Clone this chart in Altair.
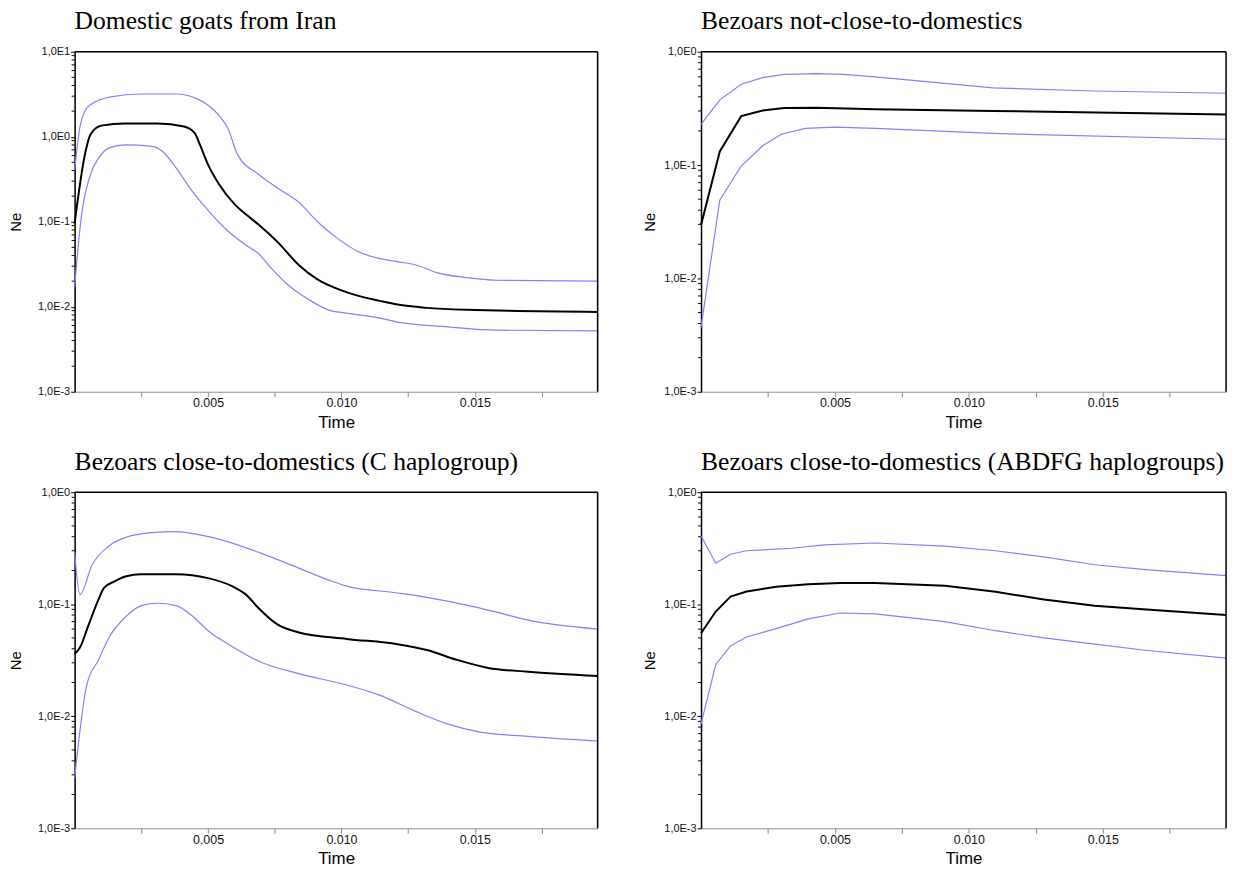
import altair as alt
import pandas as pd

# ---------------- data ----------------
titles = [
    "Domestic goats from Iran",
    "Bezoars not-close-to-domestics",
    "Bezoars close-to-domestics (C haplogroup)",
    "Bezoars close-to-domestics (ABDFG haplogroups)",
]
ymax_exp = [1, 0, 0, 0]

# Panel 1 : Domestic goats from Iran
p1_med_t = [0, 0.0004, 0.0006, 0.001, 0.0019, 0.0031, 0.0041, 0.0045, 0.0047, 0.005, 0.0054, 0.006, 0.0066, 0.0069,
            0.0076, 0.0084, 0.0091, 0.0099, 0.0106, 0.0114, 0.0121, 0.0132, 0.0147, 0.0196]
p1_med_v = [0.095, 0.65, 1.07, 1.35, 1.43, 1.43, 1.32, 1.1, 0.80, 0.47, 0.28, 0.16, 0.11, 0.092,
            0.058, 0.031, 0.021, 0.016, 0.0135, 0.0118, 0.0106, 0.0097, 0.0092, 0.0087]
p1_up_t = [0, 0.0002, 0.0004, 0.00065, 0.0013, 0.0025, 0.0038, 0.0046, 0.0054, 0.00575, 0.0061, 0.0069,
           0.0076, 0.0084, 0.0091, 0.0099, 0.0106, 0.0114, 0.0121, 0.0128, 0.0136, 0.0147, 0.0158, 0.0196]
p1_up_v = [0.40, 1.31, 2.04, 2.44, 2.92, 3.18, 3.18, 2.79, 1.79, 1.25, 0.62, 0.36,
           0.25, 0.17, 0.10, 0.062, 0.045, 0.037, 0.034, 0.031, 0.025, 0.022, 0.0205, 0.020]
p1_lo_t = [0, 0.0002, 0.00065, 0.0009, 0.0013, 0.0019, 0.0029, 0.0033, 0.0038, 0.0044, 0.005, 0.0057, 0.0065,
           0.0069, 0.0073, 0.0080, 0.0088, 0.0095, 0.0102, 0.0114, 0.0121, 0.014, 0.0158, 0.0196]
p1_lo_v = [0.017, 0.083, 0.40, 0.56, 0.74, 0.80, 0.77, 0.67, 0.43, 0.23, 0.136, 0.080, 0.051,
           0.042, 0.030, 0.018, 0.012, 0.0092, 0.0084, 0.0074, 0.0066, 0.0058, 0.0053, 0.0052]

# Panel 2 : Bezoars not-close-to-domestics
p2_med_t = [0, 0.0007, 0.0015, 0.0023, 0.0031, 0.0043, 0.0065, 0.0109, 0.0196]
p2_med_v = [0.0296, 0.132, 0.27, 0.303, 0.318, 0.32, 0.31, 0.30, 0.279]
p2_up_t = [0, 0.0007, 0.0015, 0.0023, 0.0031, 0.0043, 0.0053, 0.0065, 0.0109, 0.0147, 0.0196]
p2_up_v = [0.228, 0.376, 0.517, 0.59, 0.63, 0.64, 0.63, 0.60, 0.48, 0.45, 0.43]
p2_lo_t = [0, 0.0007, 0.0015, 0.0023, 0.003, 0.0039, 0.005, 0.0065, 0.0109, 0.0196]
p2_lo_v = [0.0037, 0.049, 0.098, 0.148, 0.187, 0.211, 0.216, 0.211, 0.19, 0.169]

# Panel 3 : Bezoars close-to-domestics (C haplogroup)
p3_med_t = [0, 0.0002, 0.0005, 0.0009, 0.0011, 0.0015, 0.0019, 0.0025, 0.0038, 0.005, 0.0059, 0.0064, 0.0069,
            0.0076, 0.0084, 0.0102, 0.0121, 0.0132, 0.0143, 0.0155, 0.017, 0.0196]
p3_med_v = [0.0359, 0.041, 0.063, 0.111, 0.14, 0.16, 0.177, 0.185, 0.185, 0.171, 0.145, 0.123, 0.092,
            0.066, 0.056, 0.049, 0.044, 0.039, 0.032, 0.027, 0.025, 0.0229]
p3_up_t = [0, 0.0002, 0.00065, 0.0013, 0.0019, 0.0029, 0.0038, 0.0046, 0.0056, 0.0069, 0.0084, 0.0095, 0.0102,
           0.0121, 0.0132, 0.0147, 0.0158, 0.017, 0.0196]
p3_up_v = [0.29, 0.122, 0.223, 0.333, 0.394, 0.436, 0.445, 0.42, 0.369, 0.29, 0.21, 0.165, 0.145,
           0.126, 0.115, 0.098, 0.085, 0.072, 0.06]
p3_lo_t = [0, 0.00045, 0.0009, 0.0013, 0.0019, 0.0025, 0.0031, 0.0038, 0.0044, 0.005, 0.0059, 0.0069, 0.0084,
           0.0102, 0.0114, 0.0128, 0.014, 0.0151, 0.017, 0.0196]
p3_lo_v = [0.0028, 0.0188, 0.032, 0.051, 0.0766, 0.097, 0.102, 0.097, 0.079, 0.058, 0.042, 0.031, 0.024,
           0.019, 0.0155, 0.011, 0.0085, 0.0073, 0.0066, 0.006]

# Panel 4 : Bezoars close-to-domestics (ABDFG haplogroups)
p4_med_t = [0, 0.00055, 0.0011, 0.0017, 0.0028, 0.004, 0.0052, 0.0065, 0.0091, 0.011, 0.0128, 0.0147, 0.0165, 0.0196]
p4_med_v = [0.055, 0.086, 0.117, 0.13, 0.143, 0.151, 0.155, 0.155, 0.146, 0.129, 0.11, 0.097, 0.09, 0.08]
p4_up_t = [0, 0.00055, 0.0011, 0.0017, 0.0034, 0.0046, 0.0065, 0.0091, 0.011, 0.0128, 0.0147, 0.0165, 0.0196]
p4_up_v = [0.408, 0.232, 0.279, 0.30, 0.316, 0.338, 0.352, 0.33, 0.30, 0.265, 0.225, 0.205, 0.18]
p4_lo_t = [0, 0.00055, 0.0011, 0.0017, 0.0028, 0.004, 0.0052, 0.0065, 0.0091, 0.011, 0.0128, 0.0147, 0.0165, 0.0196]
p4_lo_v = [0.0085, 0.029, 0.0425, 0.051, 0.0605, 0.074, 0.0835, 0.082, 0.07, 0.058, 0.05, 0.044, 0.039, 0.033]

x_ticks = [0.0025, 0.005, 0.0075, 0.010, 0.0125, 0.015, 0.0175]
x_max = 0.0196

panels = [
    (p1_med_t, p1_med_v, p1_lo_t, p1_lo_v, p1_up_t, p1_up_v),
    (p2_med_t, p2_med_v, p2_lo_t, p2_lo_v, p2_up_t, p2_up_v),
    (p3_med_t, p3_med_v, p3_lo_t, p3_lo_v, p3_up_t, p3_up_v),
    (p4_med_t, p4_med_v, p4_lo_t, p4_lo_v, p4_up_t, p4_up_v),
]
interp = ["monotone", "linear", "monotone", "linear"]

SANS = "Liberation Sans"
SERIF = "Liberation Serif"
BLUE = "#8080ff"
W_LEFT, W_RIGHT = 526, 528
HEIGHTS = [342, 342, 338, 338]
NE_PAD = [14, 6, 14, 6]


def make_panel(i):
    med_t, med_v, lo_t, lo_v, up_t, up_v = panels[i]
    W = W_LEFT if i % 2 == 0 else W_RIGHT
    H = HEIGHTS[i]
    top = ymax_exp[i]
    rows = []
    for name, ts, vs in (("median", med_t, med_v), ("lower", lo_t, lo_v), ("upper", up_t, up_v)):
        for t, v in zip(ts, vs):
            rows.append({"t": t, "v": v, "s": name})
    df = pd.DataFrame(rows)
    major = [10.0 ** e for e in range(-3, top + 1)]
    minor = [k * 10.0 ** e for e in range(-3, top) for k in range(2, 10)]

    yscale = alt.Scale(type="log", domain=[1e-3, 10.0 ** top], nice=False)
    xscale = alt.Scale(domain=[0, x_max], nice=False, zero=False)

    xaxis = alt.Axis(values=x_ticks, title="Time", grid=False,
                     labelExpr="round(datum.value*10000) % 50 == 0 ? format(datum.value, '.3f') : ''",
                     domainColor="#999999", domainWidth=1, tickColor="#888888", tickSize=5, tickWidth=1,
                     labelColor="#111111", labelFont=SANS, labelFontSize=12.5, labelPadding=0,
                     titleFont=SANS, titleFontSize=17, titleFontWeight="normal", titleColor="#000000",
                     titlePadding=5)
    yaxis = alt.Axis(values=major, title="Ne", grid=False,
                     labelExpr="'1,0E' + round(log(datum.value)/LN10)",
                     domainColor="#000000", domainWidth=1.5, tickColor="#000000", tickSize=4, tickWidth=1,
                     labelColor="#111111", labelFont=SANS, labelFontSize=11, labelPadding=1,
                     titleFont=SANS, titleFontSize=15, titleFontWeight="normal", titleColor="#000000",
                     titlePadding=NE_PAD[i])

    blue = alt.Chart(df).transform_filter("datum.s != 'median'").mark_line(
        color=BLUE, strokeWidth=1.2, interpolate=interp[i]).encode(
        x=alt.X("t:Q", scale=xscale, axis=xaxis),
        y=alt.Y("v:Q", scale=yscale, axis=yaxis),
        detail="s:N", order="t:Q")
    black = alt.Chart(df).transform_filter("datum.s == 'median'").mark_line(
        color="#000000", strokeWidth=2, interpolate=interp[i]).encode(
        x=alt.X("t:Q", scale=xscale, axis=xaxis),
        y=alt.Y("v:Q", scale=yscale, axis=yaxis),
        order="t:Q")
    minor_ticks = alt.Chart(pd.DataFrame({"v": minor})).mark_rule(color="#000000", strokeWidth=1).encode(
        y=alt.Y("v:Q", scale=yscale, axis=yaxis),
        x=alt.value(-3), x2=alt.value(0))
    frame = alt.Chart(pd.DataFrame({"a": [0]}))
    top_rule = frame.mark_rule(color="#000000", strokeWidth=1.5).encode(
        x=alt.value(0), x2=alt.value(W), y=alt.value(0))
    right_rule = frame.mark_rule(color="#000000", strokeWidth=1.5).encode(
        x=alt.value(W), y=alt.value(0), y2=alt.value(H))

    return alt.layer(blue, black, minor_ticks, top_rule, right_rule).properties(
        width=W, height=H,
        title=alt.TitleParams(titles[i], anchor="start", font=SERIF, fontSize=25.7, fontWeight="normal",
                              color="#000000", baseline="top", offset=11, frame="group"))


chart = alt.concat(*[make_panel(i) for i in range(4)], columns=2,
                   spacing=alt.RowColnumber(row=101, column=104)).properties(
    bounds="flush",
    padding={"left": 0, "top": -3.5, "right": 0, "bottom": -3},
).configure_view(stroke=None).configure(background="white")

chart.save("out.html", embed_options={"renderer": "svg", "actions": False})
